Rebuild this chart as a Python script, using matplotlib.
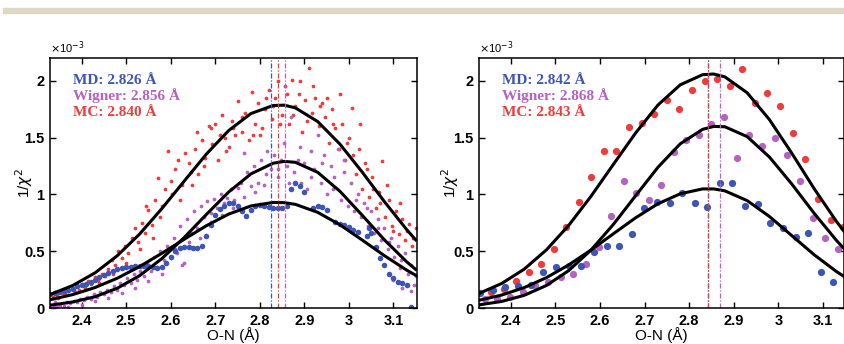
import matplotlib
matplotlib.use("Agg")
import matplotlib.pyplot as plt
from matplotlib.patches import Rectangle
from matplotlib.ticker import FormatStrFormatter

# ---------------- data (y values in units of 1e-3) ----------------
# left panel scatter
mc_l_x = [2.335, 2.340, 2.348, 2.355, 2.362, 2.370, 2.378, 2.385, 2.392, 2.400, 2.407, 2.415, 2.422, 2.430,
          2.437, 2.445, 2.452, 2.460, 2.468, 2.475, 2.482, 2.490, 2.497, 2.505, 2.512, 2.520, 2.527, 2.535,
          2.542, 2.550, 2.557, 2.565, 2.572, 2.580, 2.587, 2.595, 2.602, 2.610, 2.617, 2.625, 2.632, 2.640,
          2.647, 2.655, 2.662, 2.670, 2.677, 2.685, 2.692, 2.700, 2.707, 2.715, 2.722, 2.730, 2.737, 2.745,
          2.752, 2.760, 2.767, 2.775, 2.782, 2.790, 2.797, 2.805, 2.812, 2.820, 2.827, 2.835, 2.842, 2.850,
          2.857, 2.865, 2.872, 2.880, 2.887, 2.895, 2.902, 2.910, 2.917, 2.925, 2.932, 2.940, 2.947, 2.955,
          2.962, 2.970, 2.977, 2.985, 2.992, 3.000, 3.007, 3.015, 3.022, 3.030, 3.037, 3.045, 3.052, 3.060,
          3.067, 3.075, 3.082, 3.090, 3.097, 3.105, 3.112, 3.120, 3.127, 3.135, 3.142, 3.150,
          2.345, 2.395, 2.440, 2.470, 2.500, 2.530, 2.545, 2.560, 2.575, 2.600, 2.620, 2.645, 2.660, 2.675,
          2.690, 2.710, 2.725, 2.740, 2.760, 2.785, 2.800, 2.815, 2.830, 2.845, 2.860, 2.875, 2.890, 2.905,
          2.920, 2.935, 2.950, 2.965, 2.980, 2.995, 3.010, 3.025, 3.040, 3.055, 3.070, 3.085, 3.100, 3.115,
          3.130, 3.145]
mc_l_y = [0.10, 0.14, 0.09, 0.13, 0.12, 0.15, 0.17, 0.14, 0.19, 0.21, 0.18, 0.24, 0.21, 0.27,
          0.25, 0.30, 0.28, 0.34, 0.42, 0.38, 0.50, 0.44, 0.55, 0.48, 0.62, 0.70, 0.58, 0.75,
          0.66, 0.86, 0.73, 0.95, 1.14, 0.90, 1.05, 1.38, 1.00, 1.22, 1.30, 1.08, 1.36, 1.28,
          1.08, 1.40, 1.18, 1.48, 1.32, 1.60, 1.44, 1.62, 1.30, 1.70, 1.50, 1.42, 1.65, 1.52,
          1.82, 1.55, 1.72, 1.48, 1.90, 1.62, 1.80, 1.58, 1.75, 1.92, 1.66, 1.85, 2.00, 1.70,
          1.95, 1.62, 2.01, 1.78, 1.88, 1.55, 1.83, 2.11, 1.72, 1.85, 1.60, 1.80, 1.68, 1.45,
          1.75, 1.58, 1.40, 1.62, 1.30, 1.50, 1.76, 1.18, 1.40, 1.05, 1.28, 0.98, 1.15, 0.88,
          1.02, 1.29, 0.80, 0.95, 0.72, 0.85, 0.65, 0.78, 0.60, 0.74, 0.55, 0.70,
          0.11, 0.16, 0.22, 0.30, 0.40, 0.52, 0.90, 0.62, 0.80, 1.12, 0.95, 1.20, 1.55, 1.25,
          1.58, 1.52, 1.38, 1.58, 1.68, 1.52, 1.52, 1.85, 1.78, 1.62, 1.88, 1.70, 2.00, 1.65,
          1.95, 1.78, 1.85, 1.62, 1.88, 1.45, 1.35, 1.62, 1.22, 1.05, 0.92, 1.08, 0.68, 0.92,
          0.68, 0.62]

wig_l_x = [2.332, 2.338, 2.345, 2.352, 2.360, 2.367, 2.375, 2.382, 2.390, 2.397, 2.405, 2.412, 2.420, 2.427,
           2.435, 2.442, 2.450, 2.457, 2.465, 2.472, 2.480, 2.487, 2.495, 2.502, 2.510, 2.517, 2.525, 2.532,
           2.540, 2.547, 2.555, 2.562, 2.570, 2.577, 2.585, 2.592, 2.600, 2.607, 2.615, 2.622, 2.630, 2.637,
           2.645, 2.652, 2.660, 2.667, 2.675, 2.682, 2.690, 2.697, 2.705, 2.712, 2.720, 2.727, 2.735, 2.742,
           2.750, 2.757, 2.765, 2.772, 2.780, 2.787, 2.795, 2.802, 2.810, 2.817, 2.825, 2.832, 2.840, 2.847,
           2.855, 2.862, 2.870, 2.877, 2.885, 2.892, 2.900, 2.907, 2.915, 2.922, 2.930, 2.937, 2.945, 2.952,
           2.960, 2.967, 2.975, 2.982, 2.990, 2.997, 3.005, 3.012, 3.020, 3.027, 3.035, 3.042, 3.050, 3.057,
           3.065, 3.072, 3.080, 3.087, 3.095, 3.102, 3.110, 3.117, 3.125, 3.132, 3.140, 3.147, 3.150,
           2.340, 2.370, 2.400, 2.430, 2.460, 2.490, 2.520, 2.550, 2.580, 2.610, 2.625, 2.640, 2.665, 2.690,
           2.715, 2.740, 2.765, 2.790, 2.815, 2.840, 2.865, 2.890, 2.915, 2.940, 2.965, 2.990, 3.015, 3.040,
           3.065, 3.090, 3.115, 3.140, 3.100, 3.120]
wig_l_y = [0.00, 0.02, 0.01, 0.03, 0.02, 0.05, 0.04, 0.06, 0.05, 0.08, 0.07, 0.10, 0.08, 0.12,
           0.10, 0.14, 0.12, 0.16, 0.14, 0.19, 0.16, 0.22, 0.20, 0.26, 0.22, 0.30, 0.25, 0.33,
           0.28, 0.40, 0.33, 0.45, 0.36, 0.50, 0.42, 0.55, 0.44, 0.62, 0.48, 0.72, 0.40, 0.78,
           0.66, 0.85, 0.70, 0.90, 0.80, 0.94, 0.84, 0.96, 0.88, 1.00, 0.92, 0.97, 1.05, 0.95,
           1.06, 1.10, 1.36, 1.20, 1.07, 1.25, 1.10, 1.30, 1.08, 1.38, 1.22, 1.35, 1.15, 1.30,
           1.45, 1.25, 1.68, 1.20, 1.30, 1.10, 1.28, 1.05, 1.38, 1.22, 1.52, 1.10, 1.35, 1.00,
           1.25, 1.15, 1.40, 0.95, 1.20, 0.90, 1.10, 0.85, 1.00, 0.80, 0.92, 0.72, 0.85, 0.66,
           0.78, 0.60, 0.70, 0.52, 0.62, 0.45, 0.55, 0.42, 0.48, 0.30, 0.38, 0.20, 0.28,
           0.05, 0.01, 0.03, 0.06, 0.09, 0.13, 0.18, 0.24, 0.30, 0.52, 0.38, 0.58, 0.62, 0.76,
           0.82, 0.88, 0.98, 1.02, 1.18, 1.22, 1.10, 1.42, 1.15, 1.28, 1.05, 1.30, 0.95, 0.88,
           0.70, 0.58, 0.35, 0.15, 0.25, 0.18]

md_l_x = [2.33, 2.34, 2.35, 2.36, 2.37, 2.38, 2.39, 2.40, 2.41, 2.42, 2.43, 2.44, 2.45, 2.46, 2.47,
          2.48, 2.49, 2.50, 2.51, 2.52, 2.53, 2.54, 2.55, 2.56, 2.57, 2.58, 2.59, 2.60, 2.61, 2.62,
          2.63, 2.64, 2.65, 2.66, 2.67, 2.68, 2.69, 2.70, 2.71, 2.72, 2.73, 2.74, 2.75, 2.76, 2.77,
          2.78, 2.79, 2.80, 2.81, 2.82, 2.83, 2.84, 2.85, 2.86, 2.87, 2.88, 2.89, 2.90,
          2.92, 2.93, 2.94, 2.95, 2.97, 2.98, 2.99, 3.00, 3.01, 3.02, 3.04, 3.045, 3.05,
          3.06, 3.07, 3.08, 3.09, 3.10, 3.11, 3.12, 3.13, 3.14]
md_l_y = [0.12, 0.13, 0.14, 0.15, 0.16, 0.17, 0.19, 0.20, 0.21, 0.23, 0.25, 0.27, 0.29, 0.31, 0.33,
          0.34, 0.35, 0.36, 0.36, 0.37, 0.37, 0.37, 0.37, 0.36, 0.35, 0.36, 0.40, 0.45, 0.50, 0.53,
          0.54, 0.535, 0.53, 0.53, 0.55, 0.63, 0.73, 0.82, 0.87, 0.90, 0.92, 0.92, 0.90, 0.85, 0.81,
          0.86, 0.90, 0.91, 0.90, 0.89, 0.88, 0.88, 0.88, 0.90, 1.05, 1.10, 1.07, 1.02,
          0.88, 0.90, 0.89, 0.86, 0.76, 0.74, 0.73, 0.71, 0.69, 0.67, 0.63, 0.70, 0.66,
          0.54, 0.44, 0.38, 0.30, 0.26, 0.23, 0.22, 0.20, 0.01]

# right panel scatter
mc_r_x = [2.356, 2.384, 2.413, 2.441, 2.469, 2.497, 2.525, 2.553, 2.581, 2.609, 2.637, 2.665, 2.694, 2.722, 2.750,
          2.778, 2.806, 2.835, 2.863, 2.891, 2.919, 2.947, 2.975, 3.004, 3.032, 3.060, 3.089, 3.117, 3.145]
mc_r_y = [0.138, 0.164, 0.237, 0.320, 0.384, 0.519, 0.710, 0.929, 1.155, 1.383, 1.383, 1.594, 1.630, 1.711, 1.830,
          1.755, 1.919, 2.001, 2.013, 1.952, 2.102, 1.806, 1.894, 1.777, 1.541, 1.310, 0.962, 0.778, 0.716]
wig_r_x = [2.342, 2.370, 2.398, 2.427, 2.455, 2.483, 2.512, 2.540, 2.568, 2.597, 2.625, 2.653, 2.681, 2.710, 2.738,
           2.766, 2.794, 2.822, 2.850, 2.879, 2.907, 2.935, 2.964, 2.992, 3.020, 3.048, 3.077, 3.105, 3.133]
wig_r_y = [0.075, 0.08, 0.10, 0.14, 0.20, 0.23, 0.27, 0.30, 0.39, 0.54, 0.81, 1.12, 1.01, 0.95, 1.08,
           1.37, 1.48, 1.52, 1.62, 1.68, 1.32, 1.52, 1.43, 1.50, 1.35, 1.12, 0.79, 0.62, 0.52]
md_r_x = [2.332, 2.360, 2.388, 2.417, 2.445, 2.473, 2.501, 2.530, 2.558, 2.586, 2.615, 2.643, 2.671, 2.699, 2.728,
          2.756, 2.784, 2.813, 2.841, 2.869, 2.897, 2.926, 2.954, 2.982, 3.010, 3.039, 3.066, 3.095, 3.122]
md_r_y = [0.129, 0.16, 0.188, 0.194, 0.202, 0.32, 0.36, 0.372, 0.372, 0.49, 0.548, 0.545, 0.651, 0.877, 0.935,
          0.926, 1.014, 0.926, 0.891, 1.102, 1.102, 0.900, 0.912, 0.745, 0.701, 0.622, 0.662, 0.314, 0.226]

# fitted curves
fit_x = [2.33, 2.38, 2.43, 2.48, 2.53, 2.58, 2.63, 2.68, 2.73, 2.78, 2.83, 2.855, 2.88, 2.93, 2.98, 3.03,
         3.08, 3.13, 3.15]
fit_mc_l = [0.12, 0.198, 0.309, 0.46, 0.65, 0.874, 1.115, 1.354, 1.561, 1.711, 1.782, 1.785, 1.761, 1.641,
            1.442, 1.196, 0.935, 0.689, 0.60]
fit_wig_l = [0.025, 0.053, 0.099, 0.174, 0.284, 0.434, 0.619, 0.823, 1.02, 1.18, 1.274, 1.29, 1.282, 1.194,
             1.027, 0.816, 0.599, 0.406, 0.34]
fit_md_l = [0.073, 0.118, 0.18, 0.262, 0.364, 0.481, 0.604, 0.724, 0.826, 0.898, 0.929, 0.927, 0.912, 0.842,
            0.732, 0.598, 0.46, 0.333, 0.288]
fit_mc_r = [0.13, 0.216, 0.341, 0.511, 0.727, 0.983, 1.263, 1.54, 1.786, 1.964, 2.053, 2.059, 2.034, 1.894,
            1.657, 1.362, 1.051, 0.762, 0.659]
fit_wig_r = [0.028, 0.058, 0.111, 0.198, 0.329, 0.51, 0.735, 0.988, 1.238, 1.445, 1.572, 1.598, 1.595, 1.508,
             1.328, 1.091, 0.834, 0.595, 0.51]
fit_md_r = [0.069, 0.114, 0.179, 0.267, 0.379, 0.51, 0.653, 0.794, 0.917, 1.005, 1.048, 1.048, 1.031, 0.945,
            0.805, 0.637, 0.469, 0.321, 0.27]

# peak positions shown as vertical lines: MD, Wigner, MC
peaks_l = [2.826, 2.856, 2.840]
peaks_r = [2.842, 2.868, 2.843]

xticks = [2.4, 2.5, 2.6, 2.7, 2.8, 2.9, 3.0, 3.1]
yticks = [0, 0.5, 1, 1.5, 2]

c_red = "#ee3b3b"
c_mag = "#b562c2"
c_blue = "#3d55b5"

fig = plt.figure(figsize=(8.45, 3.44), dpi=100)
fig.patches.append(Rectangle((3 / 845, 0.9613), 1, 0.0145, transform=fig.transFigure,
                             color="#ddd8c6", zorder=0))

ax1 = fig.add_axes([50 / 845, 36 / 344, 367 / 845, 250 / 344])
ax2 = fig.add_axes([479 / 845, 36 / 344, 365 / 845, 250 / 344])

# left panel
ax1.plot(mc_l_x, mc_l_y, "o", ms=2.7, color=c_red, mec="none")
ax1.plot(wig_l_x, wig_l_y, "o", ms=2.7, color=c_mag, mec="none")
ax1.plot(md_l_x, md_l_y, "o", ms=4.0, color=c_blue, mec="none")
for fy in [fit_mc_l, fit_wig_l, fit_md_l]:
    ax1.plot(fit_x, fy, "-", color="black", lw=2.2, solid_joinstyle="round")

# right panel
ax2.plot(mc_r_x, mc_r_y, "o", ms=5.2, color=c_red, mec="none")
ax2.plot(wig_r_x, wig_r_y, "o", ms=5.2, color=c_mag, mec="none")
ax2.plot(md_r_x, md_r_y, "o", ms=5.2, color=c_blue, mec="none")
for fy in [fit_mc_r, fit_wig_r, fit_md_r]:
    ax2.plot(fit_x, fy, "-", color="black", lw=2.2, solid_joinstyle="round")

labels = ["MD", "Wigner", "MC"]
colors = [c_blue, c_mag, c_red]
for ax, peaks, xmax, ylx in [(ax1, peaks_l, 3.153, -0.07), (ax2, peaks_r, 3.147, -0.079)]:
    for p, c in zip(peaks, colors):
        ax.axvline(p, color=c, lw=0.9, ls=(0, (4, 1.5, 1, 1.5)))
    for i, (lab, p, c) in enumerate(zip(labels, peaks, colors)):
        ax.text(0.063, 0.912 - i * 0.064, "%s: %.3f Å" % (lab, p), transform=ax.transAxes,
                color=c, fontsize=11, fontweight="bold", family="Liberation Serif", va="center")
    ax.set_xlim(2.329, xmax)
    ax.set_ylim(0, 2.2)
    ax.set_xticks(xticks)
    ax.set_yticks(yticks)
    ax.xaxis.set_major_formatter(FormatStrFormatter("%g"))
    ax.yaxis.set_major_formatter(FormatStrFormatter("%g"))
    ax.tick_params(direction="in", top=True, right=True, length=4, width=1, labelsize=10.5, pad=4)
    for t in ax.get_xticklabels() + ax.get_yticklabels():
        t.set_fontweight("bold")
        t.set_family("Liberation Sans")
    for s in ax.spines.values():
        s.set_linewidth(1.1)
    ax.set_xlabel("O-N (Å)", fontsize=11, family="Liberation Sans", va="center")
    ax.xaxis.set_label_coords(0.5, -0.108)
    ax.set_ylabel(r"1/$\chi^2$", fontsize=11, family="Liberation Sans", va="center")
    ax.yaxis.set_label_coords(ylx, 0.5)
    ax.text(0.0, 1.008, r"$\times$10$^{-3}$", transform=ax.transAxes, fontsize=8,
            family="Liberation Sans", va="bottom", ha="left")

fig.savefig("out.png", dpi=100)
